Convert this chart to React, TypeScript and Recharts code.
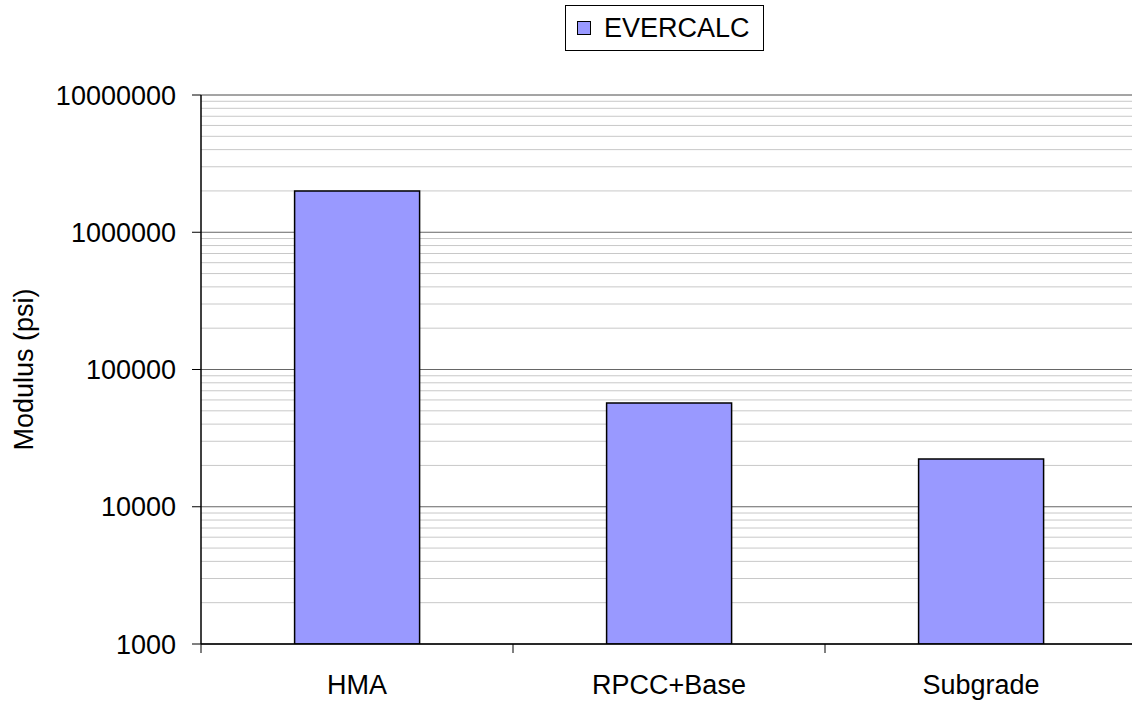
import React from 'react';
import { BarChart, Bar, XAxis, YAxis, CartesianGrid } from 'recharts';

const layers = ['HMA', 'RPCC+Base', 'Subgrade'];
const evercalc = [2000000, 57000, 22300];
const decadeTicks = [1000, 10000, 100000, 1000000, 10000000];
const minorSteps = [2, 3, 4, 5, 6, 7, 8, 9];

const data = layers.map((layer, i) => ({ layer, evercalc: evercalc[i] }));
const minorTicks = decadeTicks.slice(0, -1).flatMap((d) => minorSteps.map((m) => d * m));

const FONT = '"Liberation Sans", Arial, sans-serif';
const tickStyle = { fontFamily: FONT, fontSize: 27, fill: '#000' };
const TICK_SIZE = 9;
const TICK_MARGIN = 22;

const YLabel = (props: any) => {
  const vb = props.viewBox || { y: 95, height: 549 };
  const cy = vb.y + vb.height / 2;
  return (
    <text
      x={33}
      y={cy}
      transform={`rotate(-90, 33, ${cy})`}
      textAnchor="middle"
      style={{ fontFamily: FONT, fontSize: 27, fill: '#000' }}
    >
      Modulus (psi)
    </text>
  );
};

// category label plus a tick mark on the left edge of its band
const CategoryTick = (props: any) => {
  const { x, y, payload } = props;
  const half = payload?.offset ?? 0;
  const axisY = y - TICK_SIZE - TICK_MARGIN;
  return (
    <g>
      <line x1={x - half} x2={x - half} y1={axisY} y2={axisY + TICK_SIZE} stroke="#000" />
      <text x={x} y={y} dy="0.71em" textAnchor="middle" style={tickStyle}>
        {payload.value}
      </text>
    </g>
  );
};

const App: React.FC = () => {
  return (
    <div
      style={{
        position: 'absolute',
        left: 0,
        top: 0,
        width: 1132,
        height: 702,
        overflow: 'hidden',
        background: '#fff',
      }}
    >
      <div
        style={{
          position: 'absolute',
          left: 565,
          top: 5,
          width: 199,
          height: 46,
          boxSizing: 'border-box',
          border: '1px solid #000',
          display: 'flex',
          alignItems: 'center',
          fontFamily: FONT,
          fontSize: 27,
          zIndex: 2,
          background: '#fff',
        }}
      >
        <span
          style={{
            display: 'inline-block',
            width: 12,
            height: 12,
            marginLeft: 11,
            marginRight: 13,
            background: '#9999ff',
            border: '1px solid #000',
          }}
        />
        <span>EVERCALC</span>
      </div>
      <BarChart
        width={1140}
        height={702}
        data={data}
        margin={{ top: 95, right: 3, left: 0, bottom: 0 }}
        barCategoryGap="30%"
      >
        <YAxis
          yAxisId="minor"
          scale="log"
          domain={[1000, 10000000]}
          ticks={minorTicks}
          interval={0}
          allowDataOverflow
          hide
        />
        <CartesianGrid yAxisId="minor" vertical={false} stroke="#c8c8c8" />
        <CartesianGrid vertical={false} stroke="#666" />
        <XAxis
          dataKey="layer"
          height={58}
          interval={0}
          tickLine={false}
          tickSize={TICK_SIZE}
          tickMargin={TICK_MARGIN}
          axisLine={{ stroke: '#000', strokeWidth: 1.5 }}
          tick={<CategoryTick />}
        />
        <YAxis
          scale="log"
          domain={[1000, 10000000]}
          ticks={decadeTicks}
          interval={0}
          allowDataOverflow
          width={201}
          tickSize={9}
          tickMargin={16}
          tick={tickStyle}
          tickLine={{ stroke: '#000' }}
          axisLine={{ stroke: '#000', strokeWidth: 1.5 }}
          label={{ content: (p: any) => <YLabel {...p} /> }}
        />
        <Bar
          dataKey="evercalc"
          name="EVERCALC"
          fill="#9999ff"
          stroke="#000"
          strokeWidth={1.5}
          isAnimationActive={false}
        />
      </BarChart>
    </div>
  );
};

export default App;
